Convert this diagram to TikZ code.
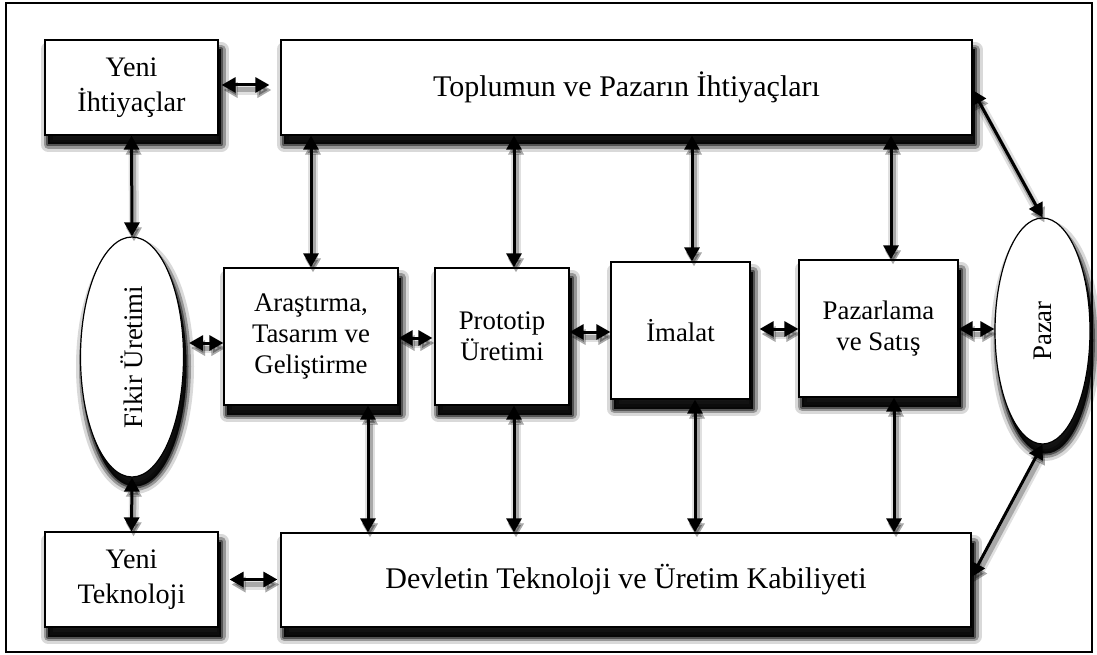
\documentclass[tikz,border=0pt]{standalone}
\usepackage{fontspec}
\setmainfont{Liberation Serif}
\usetikzlibrary{arrows.meta,shapes.geometric}
\tikzset{
  shadlayer/.style={fill=black,draw=black,line join=round,transform canvas={xshift=3pt,yshift=-9.5pt}},
  shad/.style={
    preaction={shadlayer,draw opacity=0.15,fill opacity=0.15,line width=15pt},
    preaction={shadlayer,draw opacity=0.3,fill opacity=0.3,line width=9pt},
    preaction={shadlayer,draw opacity=0.45,fill opacity=0.45,line width=4pt},
    preaction={shadlayer,draw=none,fill opacity=0.75}},
  basebox/.style={draw=black,line width=1.2pt,fill=white,shad,align=center,inner sep=0pt},
  smallbox/.style={basebox,font=\fontsize{28.2}{35}\selectfont},
  barbox/.style={basebox,font=\fontsize{30}{36}\selectfont},
  midbox/.style={basebox,font=\fontsize{26.8}{31}\selectfont},
  oval/.style={ellipse,draw=black,line width=1.2pt,fill=white,shad,inner sep=0pt},
  ovaltext/.style={rotate=90,font=\fontsize{26.8}{31}\selectfont},
  arr/.style={line width=3pt,{Triangle[length=14pt,width=15pt]}-{Triangle[length=14pt,width=15pt]},
     preaction={draw=black,opacity=0.12,line width=10pt,transform canvas={xshift=2pt,yshift=-5pt}},
     preaction={draw=black,opacity=0.25,line width=5pt,transform canvas={xshift=2pt,yshift=-5pt}}},
}
\begin{document}
\begin{tikzpicture}[x=1pt,y=-1pt]
\useasboundingbox (0,0) rectangle (1097,655);
\draw[line width=1.4pt] (6,3) rectangle (1092,652);
% nodes
\node[smallbox,minimum width=173pt,minimum height=95pt] (ni) at (131.5,87.5) {Yeni\\İhtiyaçlar};
\node[barbox,minimum width=691pt,minimum height=95pt] (top) at (626.5,87.5) {Toplumun ve Pazarın İhtiyaçları};
\node[smallbox,minimum width=173pt,minimum height=95pt] (nt) at (131.5,579.5) {Yeni\\Teknoloji};
\node[barbox,minimum width=690pt,minimum height=94pt] (bot) at (626,580) {Devletin Teknoloji ve Üretim Kabiliyeti};
\node[oval,minimum width=103pt,minimum height=240pt] (fikir) at (132,357) {};
\node[ovaltext] (fikirt) at (fikir.center) {Fikir Üretimi};
\node[oval,minimum width=95pt,minimum height=226pt] (pz) at (1042.5,331) {};
\node[ovaltext] (pzt) at (pz.center) {Pazar};
\node[midbox,minimum width=174pt,minimum height=137pt] (ar) at (311,336.5) {Araştırma,\\Tasarım ve\\Geliştirme};
\node[midbox,minimum width=134pt,minimum height=137pt] (pr) at (502,336.5) {Prototip\\Üretimi};
\node[midbox,minimum width=139pt,minimum height=137pt] (im) at (680.5,330.5) {İmalat};
\node[midbox,minimum width=159pt,minimum height=137pt] (pa) at (878.5,328.5) {Pazarlama\\ve Satış};
% horizontal connectors
\draw[arr,shorten <=3pt,shorten >=11pt] ([yshift=2.5pt]ni.east) -- ([yshift=2.5pt]ni.east -| top.west);
\draw[arr,shorten <=11pt,shorten >=3pt] (nt.east) -- (nt.east -| bot.west);
\draw[arr,shorten <=5pt] ([yshift=-6.5pt]ar.west -| fikir.east) -- ([yshift=-6.5pt]ar.west);
\draw[arr,shorten >=2pt] ([yshift=-1.5pt]ar.east) -- ([yshift=-1.5pt]ar.east -| pr.west);
\draw[arr] ([yshift=-1.5pt]im.west -| pr.east) -- ([yshift=-1.5pt]im.west);
\draw[arr,shorten <=9pt] ([yshift=1.5pt]im.east) -- ([yshift=1.5pt]im.east -| pa.west);
\draw[arr] ([yshift=-0.5pt]pa.east) -- ([yshift=-0.5pt]pa.east -| pz.west);
% side connectors
\draw[arr] ([yshift=-2.5pt]top.east) -- (pz.north);
\draw[arr] ([yshift=3pt]bot.east) -- (pz.south);
\draw[arr] (ni.south) -- (fikir.north);
\draw[arr] (fikir.south) -- (nt.north);
% vertical connectors to top
\draw[arr] (ar.north) -- (ar.north |- top.south);
\draw[arr] ([xshift=12pt]pr.north) -- ([xshift=12pt]pr.north |- top.south);
\draw[arr] ([xshift=11.5pt]im.north) -- ([xshift=11.5pt]im.north |- top.south);
\draw[arr] ([xshift=12.5pt]pa.north) -- ([xshift=12.5pt]pa.north |- top.south);
% vertical connectors to bottom
\draw[arr] ([xshift=57pt]ar.south) -- ([xshift=57pt]ar.south |- bot.north);
\draw[arr] ([xshift=12pt]pr.south) -- ([xshift=12pt]pr.south |- bot.north);
\draw[arr] ([xshift=14.5pt]im.south) -- ([xshift=14.5pt]im.south |- bot.north);
\draw[arr] ([xshift=15.5pt]pa.south) -- ([xshift=15.5pt]pa.south |- bot.north);
\end{tikzpicture}
\end{document}
